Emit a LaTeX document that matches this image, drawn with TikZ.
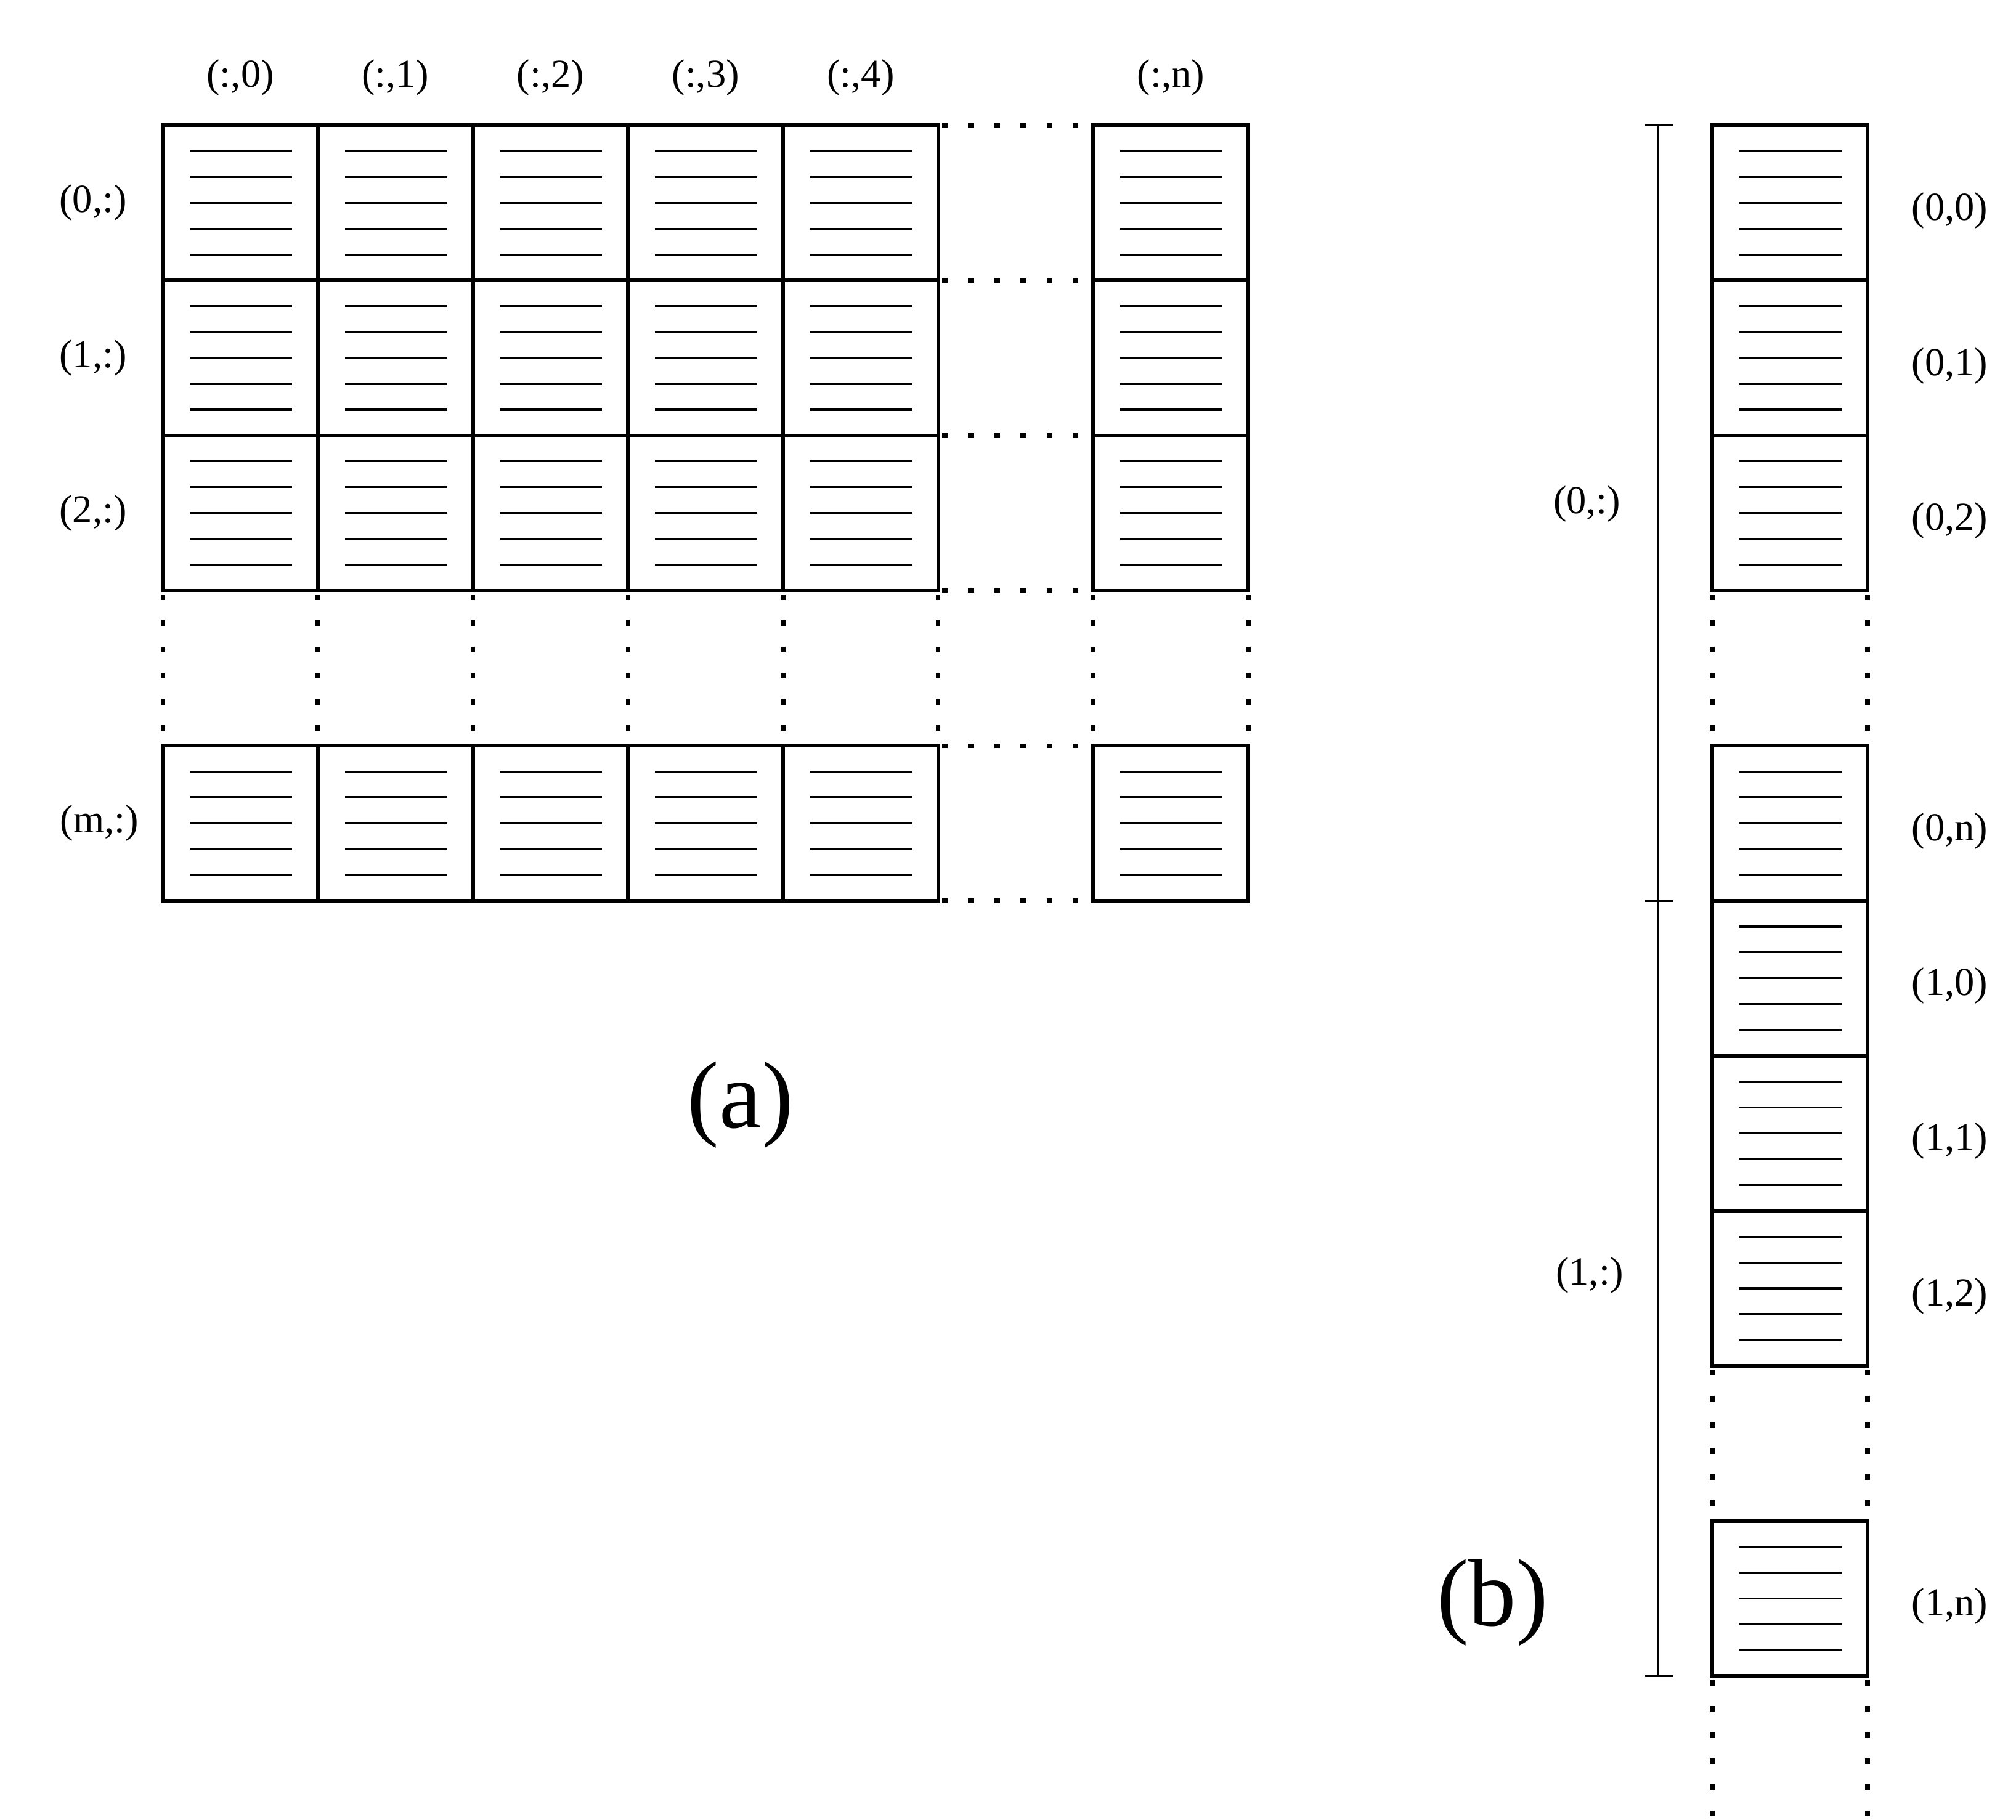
\documentclass[tikz,border=0pt]{standalone}
\usepackage{fontspec}
\setmainfont{Liberation Serif}
\begin{document}
\begin{tikzpicture}[x=0.02cm,y=-0.02cm,
  cell/.style={draw,line width=1.6pt,outer sep=0pt},
  hatch/.style={line width=0.9pt},
  dots/.style={line width=2pt,dash pattern=on 2.5pt off 9pt},
  lab/.style={font=\fontsize{17.5}{20}\selectfont},
  big/.style={font=\fontsize{42}{48}\selectfont}]
\useasboundingbox (0,0) rectangle (1560,1408);
\newcommand{\mycell}[3]{%
  \node[cell,minimum width=2.4cm,minimum height=2.4cm,inner sep=0,anchor=north west] (#3) at (#1,#2) {};
  \foreach \k in {20,40,60,80,100} \draw[hatch] (#1+21,#2+\k) -- (#1+100,#2+\k);}
% (a)
\foreach \r/\y in {0/97,1/217,2/337,m/577}{
  \foreach \c/\x in {0/126,1/246,2/366,3/486,4/606,n/846}{\mycell{\x}{\y}{a\r\c}}}
\foreach \y in {97,217,337,457,577,697} \draw[dots] (729,\y) -- (846,\y);
\foreach \x in {126,246,366,486,606,726,846,966} \draw[dots] (\x,460) -- (\x,577);
\foreach \c/\x in {0/186,1/306,2/426,3/546,4/666} \node[lab] (ca\c) at (\x,60) {(:,\c)};
\node[lab] (can) at (906,60) {(:,n)};
\foreach \r/\y in {0/157,1/277,2/397} \node[lab] (ra\r) at (72,\y) {(\r,:)};
\node[lab] (ram) at (77,637) {(m,:)};
\node[big] (la) at (573,855) {(a)};
% (b)
\foreach \n/\y/\t in {b00/97/{(0,0)},b01/217/{(0,1)},b02/337/{(0,2)},b0n/577/{(0,n)},b10/697/{(1,0)},b11/817/{(1,1)},b12/937/{(1,2)},b1n/1177/{(1,n)}}{
  \mycell{1325}{\y}{\n}
  \node[lab,anchor=west] (t\n) at (1473,\y+66) {\t};}
\foreach \a/\b in {460/577,1060/1177,1300/1408} {\draw[dots] (1325,\a) -- (1325,\b); \draw[dots] (1445,\a) -- (1445,\b);}
\coordinate (p0) at (1283,97); \coordinate (p1) at (1283,697); \coordinate (p2) at (1283,1297);
\draw[line width=1pt] (p0) -- (p1) -- (p2);
\foreach \p in {p0,p1,p2} \draw[line width=1pt] ([xshift=-0.2cm]\p) -- ([xshift=0.24cm]\p);
\node[lab] (s0) at (1228,390) {(0,:)};
\node[lab] (s1) at (1230,987) {(1,:)};
\node[big] (lb) at (1155,1240) {(b)};
\end{tikzpicture}
\end{document}
